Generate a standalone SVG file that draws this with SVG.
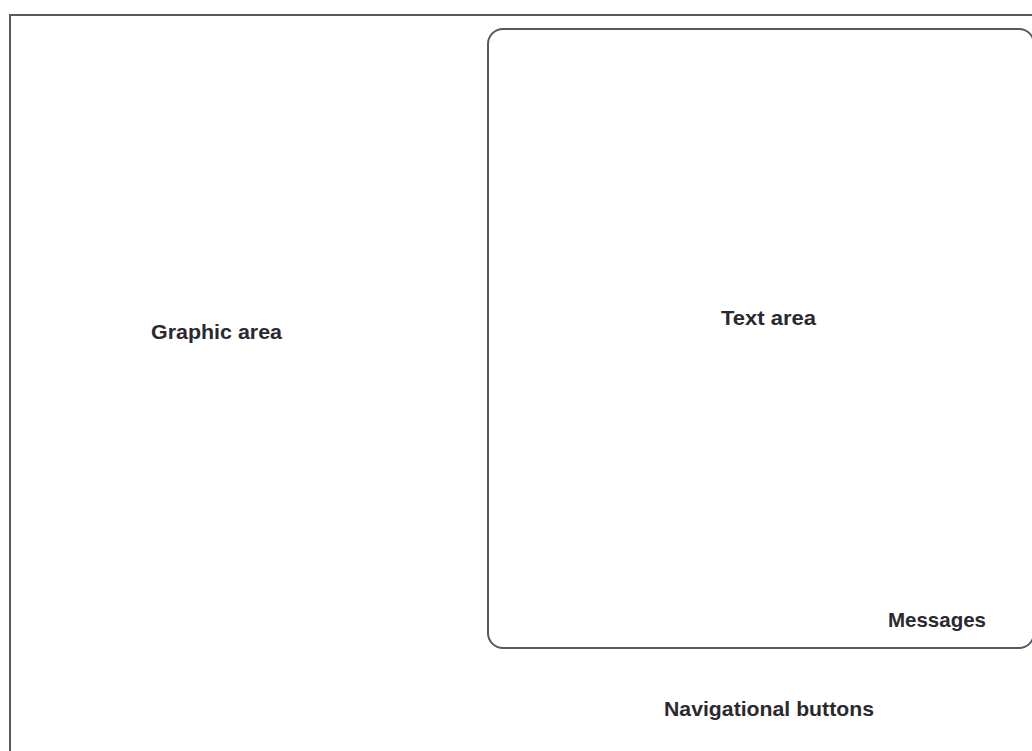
<svg xmlns="http://www.w3.org/2000/svg" width="1032" height="751" viewBox="0 0 1032 751">
<style>
.frame{fill:none;stroke:#555a62;stroke-width:2}
.lbl{font-family:"Liberation Sans",Arial,sans-serif;font-weight:bold;font-size:21px;fill:#2a2a2e}
</style>
<rect width="1032" height="751" fill="#ffffff"/>
<g id="window">
<path class="frame" d="M10,751 V15 H1032"/>
</g>
<g id="graphic-area">
<text class="lbl" x="151" y="339" textLength="131" lengthAdjust="spacingAndGlyphs">Graphic area</text>
</g>
<g id="text-area">
<rect class="frame" x="488" y="29" width="546" height="619" rx="15" ry="15"/>
<text class="lbl" x="721" y="325" textLength="95" lengthAdjust="spacingAndGlyphs">Text area</text>
</g>
<g id="messages">
<text class="lbl" x="888" y="627" textLength="98" lengthAdjust="spacingAndGlyphs">Messages</text>
</g>
<g id="navigational-buttons">
<text class="lbl" x="664" y="716" textLength="210" lengthAdjust="spacingAndGlyphs">Navigational buttons</text>
</g>
<g id="connectors"/>
</svg>
